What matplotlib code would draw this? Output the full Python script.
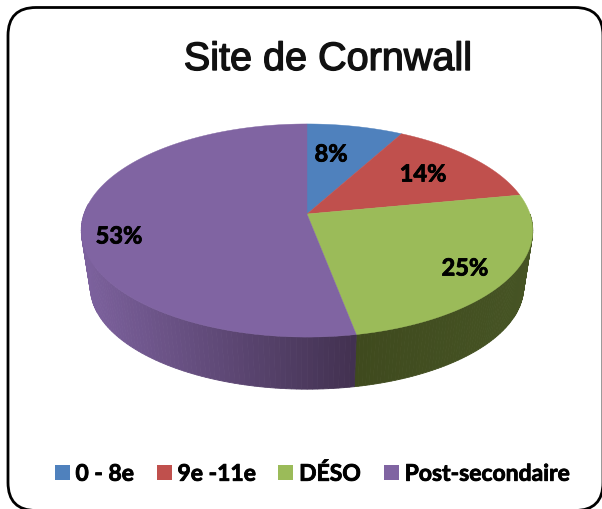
import numpy as np
import matplotlib
matplotlib.use('Agg')
import matplotlib.pyplot as plt
import matplotlib.patheffects as pe
from matplotlib.patches import FancyBboxPatch, Patch
from matplotlib.colors import to_rgb

categories = ['0 - 8e', '9e -11e', 'DÉSO', 'Post-secondaire']
values = [8, 14, 25, 53]
labels = ['8%', '14%', '25%', '53%']
colors = ['#4f81bd', '#c0504d', '#9bbb59', '#8064a2']
title = 'Site de Cornwall'

cx, cy = 307, 215     # apex of the pie, pixels
A, B, k = 104, 223, 0.155   # fake perspective
depth, shrink = 57, 0.96


def rim(theta, dy=0, s=1.0):
    u, v = np.sin(theta), np.cos(theta)
    d = 1 + k * v
    return cx + s * B * u / d, cy + dy - s * A * v / d


def side_color(x, i):
    # side wall gets darker left to right, green is nearly flat
    t = np.clip((x - 82) / (360 - 82), 0, 1)
    if i == 3:
        c0, c1 = to_rgb('#7c619d'), to_rgb('#41304f')
    else:
        c0, c1 = to_rgb('#3f4a1e'), to_rgb('#465424')
        t = np.clip((x - 360) / (533 - 360), 0, 1)
    return tuple(a + (b - a) * t for a, b in zip(c0, c1))


fig = plt.figure(figsize=(6.02, 5.10), dpi=100)
ax = fig.add_axes([0, 0, 1, 1])
ax.set_xlim(0, 602)
ax.set_ylim(510, 0)
ax.axis('off')

ax.add_patch(FancyBboxPatch((8 + 28, 8.5 + 28), 595 - 56, 503 - 56,
                            boxstyle='round,pad=28,rounding_size=28',
                            fc='white', ec='black', lw=2.0, clip_on=False))

edges = np.cumsum([0] + values) / sum(values) * 2 * np.pi

# side wall, front half only
for i in range(len(values)):
    t0, t1 = max(edges[i], np.pi / 2), edges[i + 1]
    if i == 3:
        t1 = 3 * np.pi / 2 + 0.1
    if t1 <= t0:
        continue
    steps = np.linspace(t0, t1, 90)
    for a, b in zip(steps[:-1], steps[1:]):
        x1, y1 = rim(a)
        x2, y2 = rim(b)
        x3, y3 = rim(b, depth, shrink)
        x4, y4 = rim(a, depth, shrink)
        c = side_color((x1 + x2) / 2, i)
        ax.fill([x1, x2, x3, x4], [y1, y2, y3, y4], color=c, lw=0.6)

# top face
for i in range(len(values)):
    th = np.linspace(edges[i], edges[i + 1], 120)
    x, y = rim(th)
    ax.fill(np.r_[cx, x], np.r_[cy, y], color=colors[i], lw=0.3)

thick = [pe.withStroke(linewidth=0.6, foreground='black')]

label_pos = [(331, 155), (423, 175), (465, 269), (119, 237)]
for lab, (lx, ly) in zip(labels, label_pos):
    ax.text(lx, ly, lab, ha='center', va='center', fontsize=17,
            fontweight='bold', family='Lato', color='black', path_effects=thick)

ax.text(328, 60, title, ha='center', va='center', fontsize=28.5,
        family='Liberation Sans', color='#111111',
        path_effects=[pe.withStroke(linewidth=1.0, foreground='#111111')])

handles = [Patch(fc=c, ec='none') for c in colors]
leg = ax.legend(handles, categories, ncol=4, loc='center', bbox_to_anchor=(312, 475),
                bbox_transform=ax.transData, frameon=False, handlelength=0.66, handleheight=0.66,
                handletextpad=0.25, columnspacing=1.0,
                prop={'family': 'Lato', 'weight': 'bold', 'size': 16.5})
for t in leg.get_texts():
    t.set_path_effects(thick)

plt.savefig('out.png', dpi=100)
